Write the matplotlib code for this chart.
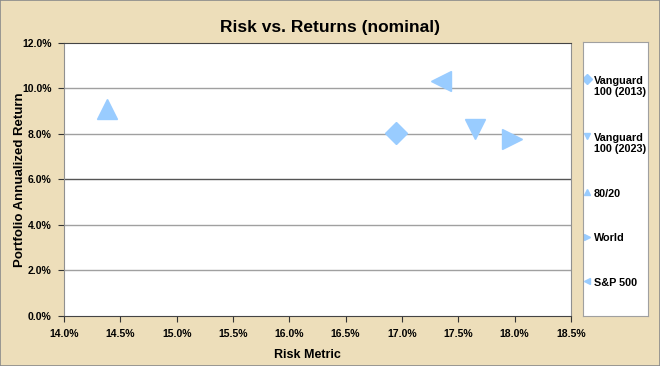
import numpy as np
import matplotlib
matplotlib.use("Agg")
import matplotlib.pyplot as plt
from matplotlib.patches import Rectangle
from matplotlib.ticker import FuncFormatter

# Data
series = ["Vanguard\n100 (2013)", "Vanguard\n100 (2023)", "80/20", "World", "S&P 500"]
markers = ["D", "v", "^", ">", "<"]
risk = [16.95, 17.65, 14.38, 17.98, 17.35]        # % risk metric
returns = [8.05, 8.2, 9.1, 7.8, 10.35]            # % annualized return

x_ticks = [14.0, 14.5, 15.0, 15.5, 16.0, 16.5, 17.0, 17.5, 18.0, 18.5]
y_ticks = [0.0, 2.0, 4.0, 6.0, 8.0, 10.0, 12.0]

bg = "#EDDEBA"
blue = "#99CCFF"
plt.rcParams.update({
    "font.family": ["Liberation Sans", "DejaVu Sans"],
    "font.weight": "bold",
})

fig = plt.figure(figsize=(6.6, 3.66), dpi=100)
fig.patch.set_facecolor(bg)
fig.patches.append(Rectangle((0, 0), 1, 1, transform=fig.transFigure,
                             fill=False, edgecolor="#8a8a8a", linewidth=1.2))

ax = fig.add_axes([0.097, 0.1366, 0.768, 0.746])
ax.set_facecolor("white")

for x, y, m in zip(risk, returns, markers):
    ms = 11 if m == "D" else 15
    ax.plot(x, y, marker=m, markersize=ms, color=blue, linestyle="none", zorder=3)

ax.set_xlim(x_ticks[0], x_ticks[-1])
ax.set_ylim(y_ticks[0], y_ticks[-1])
ax.set_xticks(x_ticks)
ax.set_yticks(y_ticks)
pct = FuncFormatter(lambda v, p: f"{v:.1f}%")
ax.xaxis.set_major_formatter(pct)
ax.yaxis.set_major_formatter(pct)
ax.tick_params(labelsize=7.5, length=4, width=0.8, color="#333333", pad=5)
for lab in ax.get_xticklabels() + ax.get_yticklabels():
    lab.set_fontweight("bold")

for y in y_ticks[1:-1]:
    ax.axhline(y, color="#555555" if y == 6.0 else "#a0a0a0", linewidth=1, zorder=1)

for s in ["top", "bottom"]:
    ax.spines[s].set_color("#444444")
for s in ["left", "right"]:
    ax.spines[s].set_color("#909090")

ax.set_xlabel("Risk Metric", fontsize=9, fontweight="bold")
ax.xaxis.set_label_coords(0.48, -0.12)
ax.set_ylabel("Portfolio Annualized Return", fontsize=9.5, fontweight="bold")
ax.yaxis.set_label_coords(-0.075, 0.5)

fig.text(0.5, 0.926, "Risk vs. Returns (nominal)", ha="center", va="center",
         fontsize=12.5, fontweight="bold")

# Legend box drawn as its own axes
lax = fig.add_axes([0.883, 0.1366, 0.099, 0.749])
lax.set_xlim(0, 1)
lax.set_ylim(0, 1)
lax.set_xticks([])
lax.set_yticks([])
for s in lax.spines.values():
    s.set_color("#a0a0a0")
legend_y = [0.865, 0.655, 0.452, 0.29, 0.128]
for lbl, m, ly in zip(series, markers, legend_y):
    lax.plot(0.07, ly, marker=m, markersize=5, color=blue, linestyle="none")
    lax.text(0.17, ly + 0.012, lbl, ha="left", va="top", fontsize=7.8,
             fontweight="bold", linespacing=1.15)

fig.savefig("out.png", dpi=100, facecolor=bg)
